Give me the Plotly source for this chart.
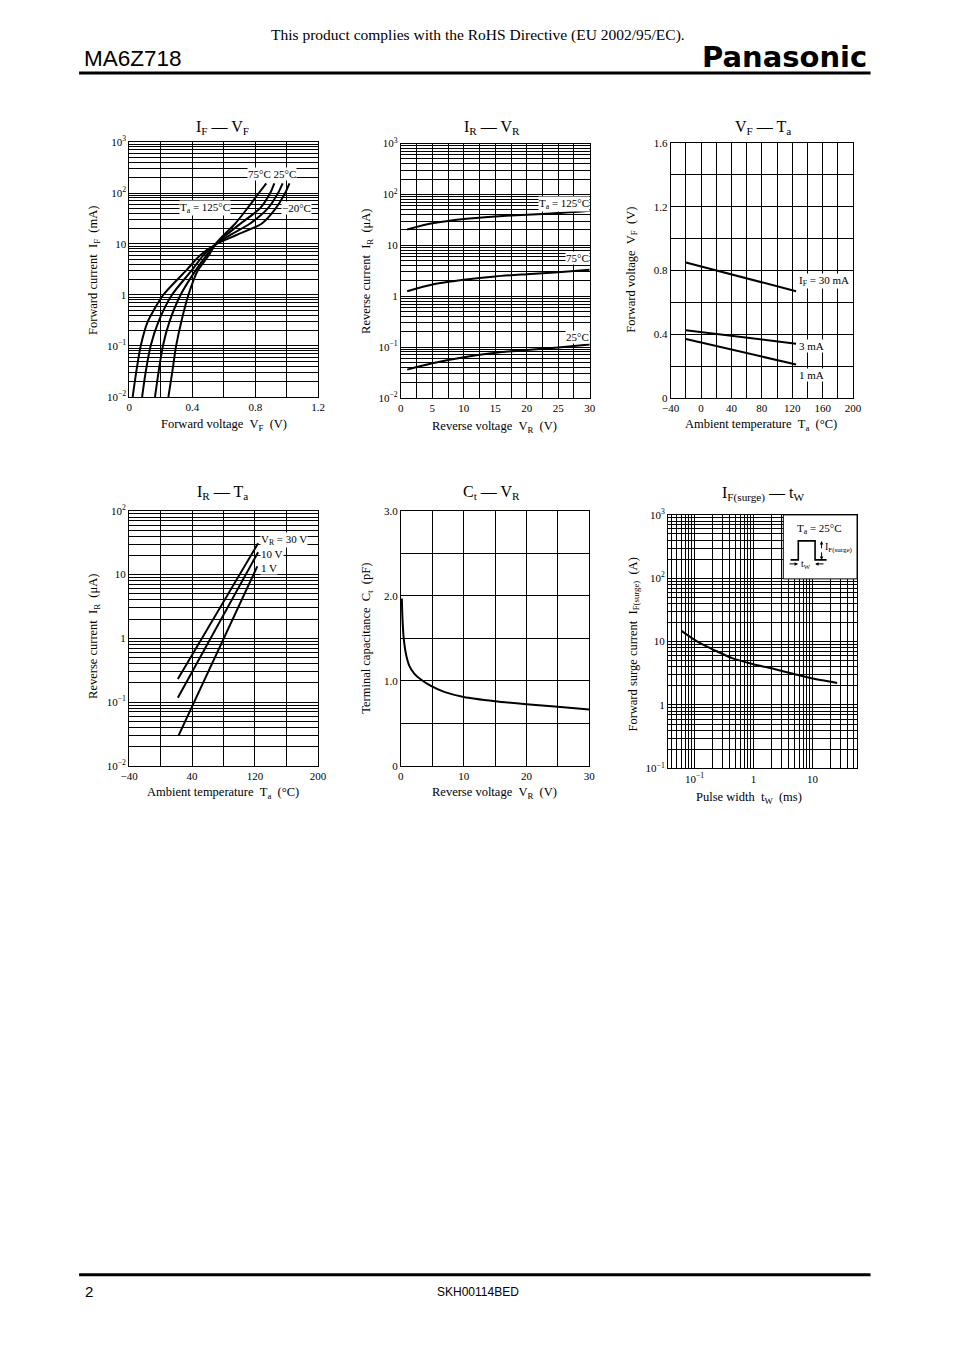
import plotly.graph_objects as go

# ---------------- data ----------------
# I_F - V_F : forward current (mA) vs forward voltage (V)
IFVF_IF = [0.01, 0.03, 0.1, 0.3, 1, 3, 6, 10, 15, 25, 50, 100, 155]
IFVF_VF_125 = [0.021, 0.043, 0.072, 0.117, 0.215, 0.36, 0.45, 0.555, 0.68, 0.84, 0.93, 0.99, 1.017]
IFVF_VF_75 = [0.081, 0.103, 0.135, 0.185, 0.27, 0.395, 0.47, 0.552, 0.64, 0.765, 0.88, 0.945, 0.974]
IFVF_VF_25 = [0.163, 0.185, 0.213, 0.255, 0.325, 0.42, 0.49, 0.55, 0.615, 0.705, 0.83, 0.895, 0.921]
IFVF_VF_M20 = [0.248, 0.272, 0.297, 0.33, 0.375, 0.434, 0.505, 0.548, 0.60, 0.672, 0.75, 0.823, 0.870]

# I_R - V_R : reverse current (uA) vs reverse voltage (V)
IRVR_VR = [1, 5, 10, 15, 20, 25, 30]
IRVR_125 = [20.5, 27, 33, 37, 40, 43, 48]
IRVR_75 = [1.25, 1.7, 2.1, 2.45, 2.7, 2.95, 3.3]
IRVR_25 = [0.036, 0.048, 0.063, 0.077, 0.088, 0.098, 0.112]

# V_F - T_a : forward voltage (V) vs ambient temperature (C)
VFTA_TA = [-20, 125]
VFTA_30MA = [0.85, 0.67]
VFTA_3MA = [0.425, 0.34]
VFTA_1MA = [0.37, 0.21]

# I_R - T_a : reverse current (uA) vs ambient temperature (C)
IRTA_TA_30V = [22, 124]
IRTA_30V = [0.23, 31]
IRTA_TA_10V = [22, 124]
IRTA_10V = [0.117, 22.5]
IRTA_TA_1V = [23, 123]
IRTA_1V = [0.03, 13.5]

# C_t - V_R : terminal capacitance (pF) vs reverse voltage (V)
CTVR_VR = [0.15, 0.27, 0.43, 0.8, 1.33, 2.13, 3.19, 4.79, 6.9, 10, 15, 20, 25, 30]
CTVR_CT = [1.97, 1.71, 1.52, 1.32, 1.18, 1.086, 1.016, 0.94, 0.87, 0.81, 0.76, 0.725, 0.694, 0.663]

# I_F(surge) - t_W : forward surge current (A) vs pulse width (ms)
SURGE_TW = [0.06, 0.118, 0.226, 0.434, 1.0, 2.24, 4.86, 9.6, 26.3]
SURGE_IF = [14.8, 9.7, 7.2, 5.5, 4.4, 3.7, 3.09, 2.64, 2.23]

# ---------------- tick labels and grid positions ----------------
IFVF_XTICKS = [0, 0.4, 0.8, 1.2]
IFVF_XLABELS = ["0", "0.4", "0.8", "1.2"]
IFVF_XGRID = [0.2, 0.6, 1.0]
IRVR_XTICKS = [0, 5, 10, 15, 20, 25, 30]
IRVR_XLABELS = ["0", "5", "10", "15", "20", "25", "30"]
IRVR_XGRID = [2.5, 7.5, 12.5, 17.5, 22.5, 27.5]
VFTA_XTICKS = [-40, 0, 40, 80, 120, 160, 200]
VFTA_XLABELS = ["\u221240", "0", "40", "80", "120", "160", "200"]
VFTA_XGRID = [-20, 20, 60, 100, 140, 180]
VFTA_YTICKS = [0, 0.4, 0.8, 1.2, 1.6]
VFTA_YLABELS = ["0", "0.4", "0.8", "1.2", "1.6"]
VFTA_YGRID = [0.2, 0.6, 1.0, 1.4]
IRTA_XTICKS = [-40, 40, 120, 200]
IRTA_XLABELS = ["\u221240", "40", "120", "200"]
IRTA_XGRID = [0, 80, 160]
CTVR_XTICKS = [0, 10, 20, 30]
CTVR_XLABELS = ["0", "10", "20", "30"]
CTVR_XGRID = [5, 15, 25]
CTVR_YTICKS = [0, 1.0, 2.0, 3.0]
CTVR_YLABELS = ["0", "1.0", "2.0", "3.0"]
CTVR_YGRID = [0.5, 1.5, 2.5]
DECADE_LABELS = {-2: "10<sup>\u22122</sup>", -1: "10<sup>\u22121</sup>", 0: "1", 1: "10",
                 2: "10<sup>2</sup>", 3: "10<sup>3</sup>"}

# Page geometry: the page is photographed with the body's default 8 px margin and
# a slight shrink, so page positions are converted into figure positions here.
PAGE_W, PAGE_H = 954, 1348
OFF = 8
SX, SY = 0.982, 0.990
W = int(round(PAGE_W / SX - OFF))
H = int(round(PAGE_H / SY - OFF))
SERIF = "Liberation Serif, Times New Roman, serif"
SANS = "Liberation Sans, Arial, sans-serif"


def px(x):
    return (x / SX - OFF) / W


def py(y):
    return 1 - (y / SY - OFF) / H


def decades(e_lo, e_hi):
    vals = [10.0 ** e for e in range(e_lo, e_hi + 1)]
    return vals, [DECADE_LABELS[e] for e in range(e_lo, e_hi + 1)]


def log_minor(e_lo, e_hi, lo=0.0, hi=1e9):
    out = []
    for e in range(e_lo, e_hi + 1):
        for m in range(2, 10):
            v = round(m * 10.0 ** e, 6)
            if lo <= v <= hi:
                out.append(v)
    return out


def axis(dom, rng, tv, tt, minor_vals, typ="linear", anchor="y"):
    return dict(domain=dom, range=rng, type=typ, tickmode="array", tickvals=tv, ticktext=tt,
                showgrid=True, gridcolor="black", gridwidth=1, showline=True, linecolor="black",
                linewidth=1, mirror=True, ticks="", zeroline=False, anchor=anchor, fixedrange=True,
                minor=dict(tickmode="array", tickvals=minor_vals, showgrid=True, gridcolor="black",
                           gridwidth=1, ticks=""),
                tickfont=dict(family=SERIF, size=11, color="black"))


fig = go.Figure()


def add(x, y, n, shape="spline"):
    fig.add_trace(go.Scatter(x=x, y=y, mode="lines",
                             line=dict(color="black", width=2, shape=shape, smoothing=0.7),
                             xaxis="x" + ("" if n == 1 else str(n)),
                             yaxis="y" + ("" if n == 1 else str(n)), hoverinfo="skip"))


# chart 1
for vf in (IFVF_VF_125, IFVF_VF_75, IFVF_VF_25, IFVF_VF_M20):
    add(vf, IFVF_IF, 1)
# chart 2
for ir in (IRVR_125, IRVR_75, IRVR_25):
    add(IRVR_VR, ir, 2)
# chart 3
for vf in (VFTA_30MA, VFTA_3MA, VFTA_1MA):
    add(VFTA_TA, vf, 3, "linear")
# chart 4
add(IRTA_TA_30V, IRTA_30V, 4, "linear")
add(IRTA_TA_10V, IRTA_10V, 4, "linear")
add(IRTA_TA_1V, IRTA_1V, 4, "linear")
# chart 5
add(CTVR_VR, CTVR_CT, 5)
# chart 6
add(SURGE_TW, SURGE_IF, 6)

# plot areas (page pixels): left, right, top, bottom
B1 = (128.3, 317.3, 142, 397)
B2 = (400, 589, 143.5, 398)
B3 = (670, 852.5, 143, 398)
B4 = (128, 317, 511, 766)
B5 = (400, 588.5, 511, 766)
B6 = (667.3, 856.5, 515, 768.5)


def dx(b):
    return [px(b[0]), px(b[1])]


def dy(b):
    return [py(b[3]), py(b[2])]


y1v, y1t = decades(-2, 3)
y4v, y4t = decades(-2, 2)
y6v, y6t = decades(-1, 3)
x6v, x6t = decades(-1, 1)

fig.update_layout(
    width=W, height=H, margin=dict(l=0, r=0, t=0, b=0), autosize=False,
    paper_bgcolor="white", plot_bgcolor="white", showlegend=False,
    xaxis=axis(dx(B1), [0, 1.2], IFVF_XTICKS, IFVF_XLABELS, IFVF_XGRID, anchor="y"),
    yaxis=axis(dy(B1), [-2, 3], y1v, y1t, log_minor(-2, 2), "log", anchor="x"),
    xaxis2=axis(dx(B2), [0, 30], IRVR_XTICKS, IRVR_XLABELS, IRVR_XGRID, anchor="y2"),
    yaxis2=axis(dy(B2), [-2, 3], y1v, y1t, log_minor(-2, 2), "log", anchor="x2"),
    xaxis3=axis(dx(B3), [-40, 200], VFTA_XTICKS, VFTA_XLABELS, VFTA_XGRID, anchor="y3"),
    yaxis3=axis(dy(B3), [0, 1.6], VFTA_YTICKS, VFTA_YLABELS, VFTA_YGRID, anchor="x3"),
    xaxis4=axis(dx(B4), [-40, 200], IRTA_XTICKS, IRTA_XLABELS, IRTA_XGRID, anchor="y4"),
    yaxis4=axis(dy(B4), [-2, 2], y4v, y4t, log_minor(-2, 1), "log", anchor="x4"),
    xaxis5=axis(dx(B5), [0, 30], CTVR_XTICKS, CTVR_XLABELS, CTVR_XGRID, anchor="y5"),
    yaxis5=axis(dy(B5), [0, 3.0], CTVR_YTICKS, CTVR_YLABELS, CTVR_YGRID, anchor="x5"),
    xaxis6=axis(dx(B6), [-1.45, 1.757], x6v, x6t, log_minor(-2, 1, 0.036, 56), "log", anchor="y6"),
    yaxis6=axis(dy(B6), [-1, 3], y6v, y6t, log_minor(-1, 2), "log", anchor="x6"),
)

ann = []


def text(x, y, s, size=11, family=SERIF, xanchor="center", yanchor="middle", angle=0, bg=None):
    d = dict(x=px(x), y=py(y), xref="paper", yref="paper", text=s, showarrow=False,
             font=dict(family=family, size=size, color="black"), xanchor=xanchor,
             yanchor=yanchor, textangle=angle, borderpad=0)
    if bg:
        d["bgcolor"] = bg
    ann.append(d)


NB = "\u00a0"
# header / footer
text(477, 35, "This product complies with the RoHS Directive (EU 2002/95/EC).", 15.5)
text(82, 58, "MA6Z718", 22.5, SANS, xanchor="left")
text(867, 57, "<b>Panasonic</b>", 29, "DejaVu Sans, Arial Black, sans-serif", xanchor="right")
text(83, 1292, "2", 15, SANS, xanchor="left")
text(477, 1292, "SKH00114BED", 12, SANS)

# chart titles
TITLE = 16
text(222, 127, "I<sub>F</sub> \u2014 V<sub>F</sub>", TITLE)
text(491, 127, "I<sub>R</sub> \u2014 V<sub>R</sub>", TITLE)
text(762, 127, "V<sub>F</sub> \u2014 T<sub>a</sub>", TITLE)
text(222, 493, "I<sub>R</sub> \u2014 T<sub>a</sub>", TITLE)
text(491, 493, "C<sub>t</sub> \u2014 V<sub>R</sub>", TITLE)
text(762, 494, "I<sub>F(surge)</sub> \u2014 t<sub>W</sub>", TITLE)

# axis titles
AX = 12.5
sp = NB * 2
text(93, 270, "Forward current" + sp + "I<sub>F</sub>" + sp + "(mA)", AX, angle=-90)
text(223, 425, "Forward voltage" + sp + "V<sub>F</sub>" + sp + "(V)", AX)
text(366, 271, "Reverse current" + sp + "I<sub>R</sub>" + sp + "(\u03bcA)", AX, angle=-90)
text(494, 427, "Reverse voltage" + sp + "V<sub>R</sub>" + sp + "(V)", AX)
text(631, 270, "Forward voltage" + sp + "V<sub>F</sub>" + sp + "(V)", AX, angle=-90)
text(760, 425, "Ambient temperature" + sp + "T<sub>a</sub>" + sp + "(\u00b0C)", AX)
text(93, 637, "Reverse current" + sp + "I<sub>R</sub>" + sp + "(\u03bcA)", AX, angle=-90)
text(222, 793, "Ambient temperature" + sp + "T<sub>a</sub>" + sp + "(\u00b0C)", AX)
text(366, 638, "Terminal capacitance" + sp + "C<sub>t</sub>" + sp + "(pF)", AX, angle=-90)
text(494, 793, "Reverse voltage" + sp + "V<sub>R</sub>" + sp + "(V)", AX)
text(633, 645, "Forward surge current" + sp + "I<sub>F(surge)</sub>" + sp + "(A)", AX, angle=-90)
text(748, 798, "Pulse width" + sp + "t<sub>W</sub>" + sp + "(ms)", AX)

# in-plot labels (white boxes)
LB = 11
text(271, 174, "75\u00b0C 25\u00b0C", LB, bg="white")
text(204, 208, "T<sub>a</sub> = 125\u00b0C", LB, bg="white")
text(296, 208, "\u221220\u00b0C", LB, bg="white")

text(589, 204, "T<sub>a</sub> = 125\u00b0C", LB, xanchor="right", bg="white")
text(589, 258, "75\u00b0C", LB, xanchor="right", bg="white")
text(589, 337, "25\u00b0C", LB, xanchor="right", bg="white")

text(797, 281, "I<sub>F</sub> = 30 mA", LB, xanchor="left", bg="white")
text(797, 346, "3 mA", LB, xanchor="left", bg="white")
text(797, 375.5, "1 mA", LB, xanchor="left", bg="white")

text(259, 540, "V<sub>R</sub> = 30 V", LB, xanchor="left", bg="white")
text(259, 554, "10 V", LB, xanchor="left", bg="white")
text(259, 568.5, "1 V", LB, xanchor="left", bg="white")

# inset of chart 6
text(819, 529, "T<sub>a</sub> = 25\u00b0C", LB)
text(823, 548, "I<sub>F(surge)</sub>", 10, xanchor="left")
text(805, 565, "t<sub>W</sub>", 9.5)


def arrow(x, y, axp, ayp):
    ann.append(dict(x=px(x), y=py(y), xref="paper", yref="paper", text="", showarrow=True,
                    ax=axp, ay=ayp, arrowhead=2, arrowsize=0.7, arrowwidth=1, arrowcolor="black"))


arrow(797.5, 564, -10, 0)
arrow(814.5, 564, 10, 0)
arrow(821, 541, 0, 9)
arrow(821, 560, 0, -9)

shapes = [
    dict(type="line", xref="paper", yref="paper", x0=px(78), x1=px(870), y0=py(73), y1=py(73),
         line=dict(color="black", width=3)),
    dict(type="line", xref="paper", yref="paper", x0=px(78), x1=px(870), y0=py(1275), y1=py(1275),
         line=dict(color="black", width=3)),
    dict(type="rect", xref="paper", yref="paper", x0=px(782.7), x1=px(B6[1]), y0=py(579), y1=py(B6[2]),
         fillcolor="white", line=dict(color="black", width=1), layer="above"),
    dict(type="path", xref="paper", yref="paper", layer="above",
         path="M {a},{b} L {c},{b} L {c},{d} L {e},{d} L {e},{b} L {f},{b}".format(
             a=px(790), b=py(560), c=px(797.7), d=py(541), e=px(814.5), f=px(826)),
         line=dict(color="black", width=1.6)),
]

fig.update_layout(annotations=ann, shapes=shapes)
fig.write_html("out.html")
